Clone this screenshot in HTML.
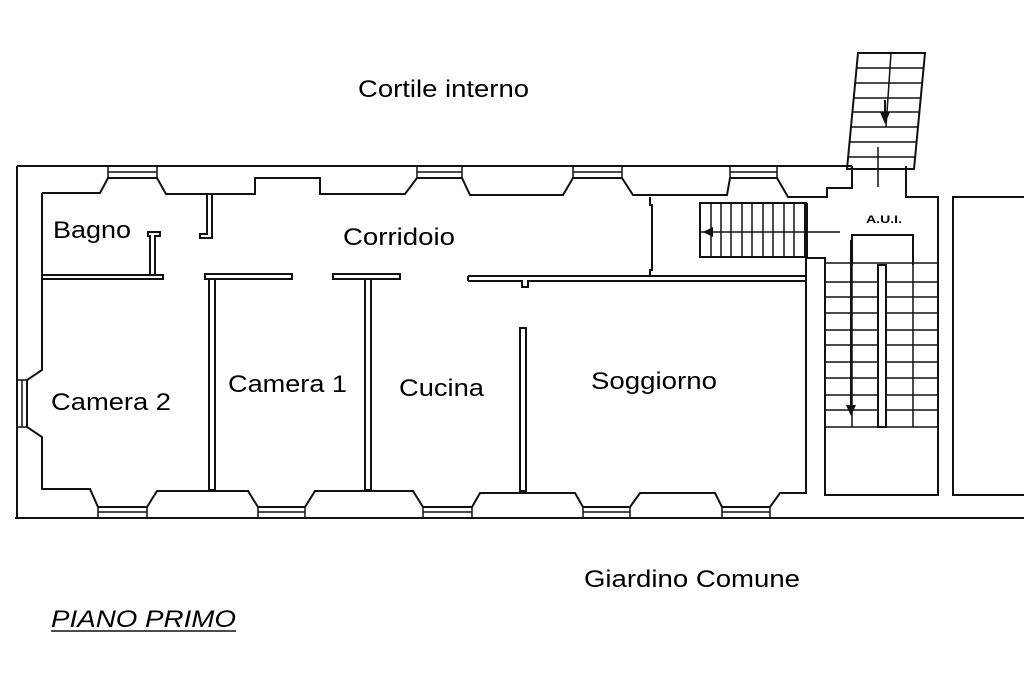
<!DOCTYPE html>
<html><head><meta charset="utf-8"><style>
html,body{margin:0;padding:0;background:#fff;}
svg{display:block}
text{font-family:"Liberation Sans",Arial,sans-serif;fill:#000}
</style></head><body>
<svg width="1024" height="682" viewBox="0 0 1024 682" xmlns="http://www.w3.org/2000/svg">
<g fill="none" stroke="#111" stroke-width="2">
<!-- outer -->
<path d="M17,166 H852 M17,166 V518 M15,518 H1024"/>
<!-- top inner -->
<path d="M42,193 H100 L108,178 H157 L166,194 H255 V178 H320 V194 H405 L417,178 H462 L470,195 H563 L573,178 H622 L633,195 H727 L730,178 H777 L788,197 H827 V188 H852 V166"/>
<path d="M906,166 V197 H938 V495 H825 V258 H806 V493 H780 L770,507 H722 L715,493 H640 L630,507 H583 L575,493 H480 L472,507 H423 L413,491 H315 L305,507 H258 L248,491 H157 L147,507 H98 L90,489 H42 V437 L27,427 V380 L42,370 V193"/>
<!-- windows -->
<path stroke-width="1.5" d="M108,172 H157 M417,172 H462 M573,172 H622 M730,172 H777 M108,166 V178 M157,166 V178 M417,166 V178 M462,166 V178 M573,166 V178 M622,166 V178 M730,166 V178 M777,166 V178
M98,512 H147 M258,512 H305 M423,512 H472 M583,512 H630 M722,512 H770 M98,507 V518 M147,507 V518 M258,507 V518 M305,507 V518 M423,507 V518 M472,507 V518 M583,507 V518 M630,507 V518 M722,507 V518 M770,507 V518
M22,380 V427 M17,380 H27 M17,427 H27"/>
<!-- interior walls -->
<rect x="42" y="275" width="121" height="4"/>
<path d="M150,275 V236 H148 V232 H160 V236 H155 V275"/>
<path d="M207,193 V234 H200 V238 H212 V193"/>
<rect x="205" y="274" width="87" height="5"/>
<rect x="333" y="274" width="67" height="5"/>
<path d="M468,276 H806 M468,281 H522 V287 H528 V281 H806 M468,276 V281"/>
<rect x="209" y="279" width="6" height="211"/>
<rect x="365" y="279" width="6" height="211"/>
<rect x="520" y="328" width="6" height="163"/>
<path d="M650,197 V205 H652 V270 H650 V276"/>
<path d="M652,276 H806"/>
<!-- horizontal stair -->
<rect x="700" y="203" width="106" height="54"/>
<path stroke-width="1.5" d="M700,232 H840 M711,203 V257 M721,203 V257 M731,203 V257 M742,203 V257 M752,203 V257 M763,203 V257 M773,203 V257 M784,203 V257 M794,203 V257"/>
<path stroke-width="4" d="M806,203 V257"/>
<!-- vertical stair -->
<path d="M852,265 V235 H913 V265"/>
<path stroke-width="1.5" d="M825,263 H938 M825,282 H938 M825,297 H938 M825,313 H938 M825,330 H938 M825,345 H938 M825,362 H938 M825,378 H938 M825,395 H938 M825,410 H938 M825,427 H938 M852,263 V427 M913,263 V427"/>
<rect x="878" y="265" width="8" height="162" fill="#fff"/>
<path d="M851,240 V412"/>
<!-- outdoor stair -->
<path d="M858,53 H925 L914,169 H847 Z"/>
<path stroke-width="1.5" d="M857,68 H924 M855,83 H922 M854,98 H921 M853,112 H920 M851,127 H918 M850,142 H917 M848,157 H916 M891,53 L886,127 M878,147 V187"/>
<path d="M885,100 V115"/>
<!-- right building -->
<path d="M1024,197 H953 V495 H1024"/>
</g>
<!-- arrowheads -->
<polygon points="703,232 713,227 713,237" fill="#111"/>
<polygon points="851,416 846,405 856,405" fill="#111"/>
<polygon points="885,124 880,112 890,112" fill="#111"/>
<!-- labels -->
<text x="358" y="97" font-size="24" textLength="171" lengthAdjust="spacingAndGlyphs">Cortile interno</text>
<text x="53" y="238" font-size="24" textLength="78" lengthAdjust="spacingAndGlyphs">Bagno</text>
<text x="343" y="245" font-size="24" textLength="112" lengthAdjust="spacingAndGlyphs">Corridoio</text>
<text x="51" y="410" font-size="24" textLength="120" lengthAdjust="spacingAndGlyphs">Camera 2</text>
<text x="228" y="392" font-size="24" textLength="119" lengthAdjust="spacingAndGlyphs">Camera 1</text>
<text x="399" y="396" font-size="24" textLength="85" lengthAdjust="spacingAndGlyphs">Cucina</text>
<text x="591" y="389" font-size="24" textLength="126" lengthAdjust="spacingAndGlyphs">Soggiorno</text>
<text x="584" y="587" font-size="24" textLength="216" lengthAdjust="spacingAndGlyphs">Giardino Comune</text>
<text x="51" y="627" font-size="24" font-style="italic" textLength="185" lengthAdjust="spacingAndGlyphs">PIANO PRIMO</text>
<line x1="51" y1="631" x2="236" y2="631" stroke="#111" stroke-width="1.5"/>
<text x="866" y="223" font-size="11" font-weight="bold" textLength="36" lengthAdjust="spacingAndGlyphs">A.U.I.</text>
</svg>
</body></html>
